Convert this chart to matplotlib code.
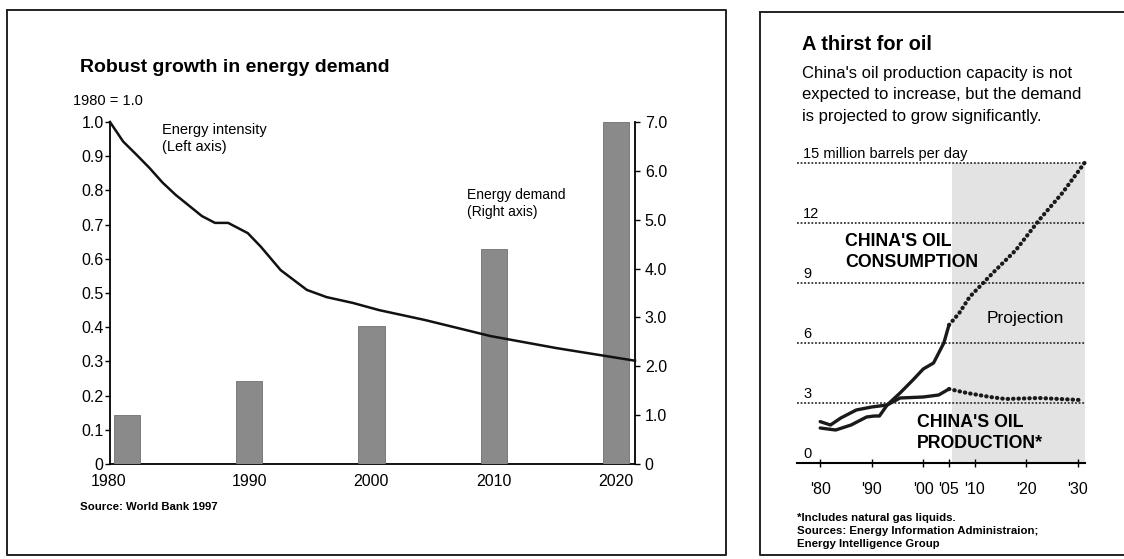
import numpy as np
import matplotlib
matplotlib.use("Agg")
import matplotlib.pyplot as plt
from matplotlib.lines import Line2D

plt.rcParams["font.family"] = ["Liberation Sans", "DejaVu Sans"]

# Left chart: energy demand (bars, right axis) and energy intensity (line, left axis)
demand_years = [1980, 1990, 2000, 2010, 2020]
demand = [1.0, 1.7, 2.83, 4.4, 7.0]
intensity_years = [1980, 1981, 1982, 1983, 1984, 1985, 1987, 1988, 1989, 1990.5,
                   1991.5, 1993, 1995, 1996.5, 1998.5, 2000.5, 2004, 2009, 2014, 2020]
intensity = [1.0, 0.943, 0.905, 0.866, 0.823, 0.787, 0.725, 0.705, 0.705, 0.675,
             0.635, 0.567, 0.509, 0.488, 0.471, 0.45, 0.421, 0.374, 0.339, 0.302]
left_ticks = [0, 0.1, 0.2, 0.3, 0.4, 0.5, 0.6, 0.7, 0.8, 0.9, 1.0]
left_labels = ["0", "0.1", "0.2", "0.3", "0.4", "0.5", "0.6", "0.7", "0.8", "0.9", "1.0"]
right_ticks = [0, 1, 2, 3, 4, 5, 6, 7]
right_labels = ["0", "1.0", "2.0", "3.0", "4.0", "5.0", "6.0", "7.0"]

# Right chart: China's oil, million barrels per day
cons_years = [1980, 1983, 1986, 1989, 1990.5, 1991.5, 1993, 1995.5, 1998, 2000, 2002, 2004, 2005]
cons = [1.75, 1.65, 1.9, 2.3, 2.35, 2.35, 2.9, 3.5, 4.15, 4.7, 5.0, 6.0, 6.9]
cons_proj_years = [2005, 2007, 2009, 2013.5, 2018, 2022.5, 2027, 2031.3]
cons_proj = [6.9, 7.5, 8.3, 9.5, 10.65, 12.15, 13.5, 15.0]
prod_years = [1980, 1982, 1984, 1987, 1990, 1993, 1995.5, 2000, 2003, 2005]
prod = [2.07, 1.9, 2.25, 2.65, 2.8, 2.9, 3.25, 3.3, 3.4, 3.7]
prod_proj_years = [2005, 2008.5, 2013, 2016, 2022.5, 2030.5]
prod_proj = [3.7, 3.5, 3.3, 3.2, 3.25, 3.15]
oil_grid = [3, 6, 9, 12, 15]
oil_grid_labels = ["3", "6", "9", "12", "15 million barrels per day"]
oil_xticks = [1980, 1990, 2000, 2005, 2010, 2020, 2030]
oil_xlabels = ["'80", "'90", "'00", "'05", "'10", "'20", "'30"]

W, H = 1124, 559
fig = plt.figure(figsize=(W / 100, H / 100), dpi=100)
fig.patch.set_facecolor("white")


def fx(x):
    return x / W


def fy(y):
    return 1 - y / H


# panel frames
for (x0, y0, x1, y1) in [(7, 10, 726, 555), (760, 12, 1130, 555)]:
    xs = [fx(x0), fx(x1), fx(x1), fx(x0), fx(x0)]
    ys = [fy(y0), fy(y0), fy(y1), fy(y1), fy(y0)]
    fig.add_artist(Line2D(xs, ys, color="#222222", lw=1.4))

# ---------------- left chart ----------------
ax = fig.add_axes([fx(110), fy(464), 525 / W, 342 / H])
ax.set_xlim(1978.63, 2021.55)
ax.set_ylim(0, 1.0)
ax.set_yticks(left_ticks)
ax.set_yticklabels(left_labels)
ax.set_xticks(demand_years)
ax.set_xticklabels([str(y) for y in demand_years])
ax.get_xticklabels()[0].set_horizontalalignment("right")
ax.tick_params(axis="x", length=0, pad=7, labelsize=11.5)
ax.tick_params(axis="y", direction="out", length=3.6, width=1, pad=1, labelsize=11.5)
for s in ["top", "right"]:
    ax.spines[s].set_visible(False)
ax.spines["left"].set_linewidth(1.3)
ax.spines["bottom"].set_linewidth(1.3)

axr = ax.twinx()
axr.set_ylim(0, 7)
axr.set_yticks(right_ticks)
axr.set_yticklabels(right_labels)
axr.tick_params(axis="y", direction="out", length=3.6, width=1, pad=3.5, labelsize=11.5)
for s in ["top", "left", "bottom"]:
    axr.spines[s].set_visible(False)
axr.spines["right"].set_linewidth(1.3)
axr.bar(demand_years, demand, width=2.15, color="#8a8a8a", edgecolor="#707070", lw=0.6, zorder=1)

axl = ax.twiny()
axl.set_xlim(1980, 2020)
axl.set_axis_off()
axl.plot(intensity_years, intensity, color="#111111", lw=1.8, clip_on=False)

ax.text(1982.9, 0.997, "Energy intensity\n(Left axis)", fontsize=10.5, va="top",
        ha="left", linespacing=1.3)
ax.text(2007.8, 0.807, "Energy demand\n(Right axis)", fontsize=10, va="top",
        ha="left", linespacing=1.3)

fig.text(fx(80), fy(68), "Robust growth in energy demand", fontsize=14,
         fontweight="bold", va="center", ha="left")
fig.text(fx(73), fy(101), "1980 = 1.0", fontsize=10.5, va="center", ha="left")
fig.text(fx(80), fy(507), "Source: World Bank 1997", fontsize=8.2,
         fontweight="bold", va="center", ha="left")

# ---------------- right chart ----------------
ax2 = fig.add_axes([fx(797), fy(463), 288 / W, 300 / H])
ax2.set_xlim(1975.5, 2031.4)
ax2.set_ylim(0, 15)
for s in ["top", "right", "left"]:
    ax2.spines[s].set_visible(False)
ax2.spines["bottom"].set_linewidth(1.5)
ax2.set_yticks([])
ax2.set_xticks(oil_xticks)
ax2.set_xticklabels(oil_xlabels)
ax2.tick_params(axis="x", direction="inout", length=6, width=1, pad=10.5, labelsize=11.5)

ax2.axvspan(2005.6, 2031.4, color="#e3e3e3", lw=0, zorder=0)
for v, lab in zip(oil_grid, oil_grid_labels):
    ax2.axhline(v, color="#333333", lw=1.3, ls=(0, (1, 1)), zorder=1, clip_on=False)
    ax2.text(1976.7, v + 0.25, lab, fontsize=10.5, va="baseline", ha="left")
ax2.text(1976.7, 0.25, "0", fontsize=10.5, va="baseline", ha="left")

ax2.plot(cons_years, cons, color="#1a1a1a", lw=2.4, zorder=3, solid_capstyle="round")
ax2.plot(prod_years, prod, color="#1a1a1a", lw=2.4, zorder=3, solid_capstyle="round")
ax2.plot(cons_proj_years, cons_proj, color="#1a1a1a", lw=3, ls=(0, (0.1, 1.2)),
         dash_capstyle="round", zorder=3, clip_on=False)
ax2.plot(prod_proj_years, prod_proj, color="#1a1a1a", lw=3, ls=(0, (0.1, 1.2)),
         dash_capstyle="round", zorder=3, clip_on=False)

fig.text(fx(845), fy(252), "CHINA'S OIL\nCONSUMPTION", fontsize=12.8, fontweight="bold",
         va="center", ha="left", linespacing=1.3)
fig.text(fx(917), fy(433), "CHINA'S OIL\nPRODUCTION*", fontsize=12.8, fontweight="bold",
         va="center", ha="left", linespacing=1.3)
fig.text(fx(987), fy(318), "Projection", fontsize=12.5, va="center", ha="left")

fig.text(fx(802), fy(44), "A thirst for oil", fontsize=14.4, fontweight="bold",
         va="center", ha="left")
fig.text(fx(802), fy(95), "China's oil production capacity is not\n"
         "expected to increase, but the demand\n"
         "is projected to grow significantly.", fontsize=12, va="center", ha="left",
         linespacing=1.55)
fig.text(fx(797), fy(531), "*Includes natural gas liquids.\n"
         "Sources: Energy Information Administraion;\n"
         "Energy Intelligence Group", fontsize=8.2, fontweight="bold",
         va="center", ha="left", linespacing=1.4)

fig.savefig("out.png", dpi=100)
